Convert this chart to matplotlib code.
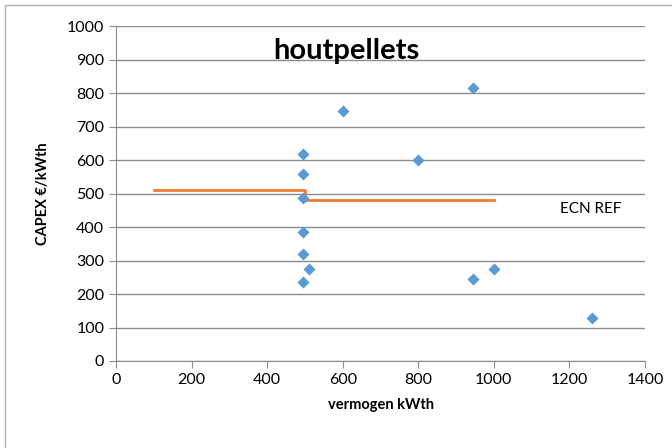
import matplotlib
matplotlib.use("Agg")
import matplotlib.pyplot as plt
from matplotlib.patches import Rectangle

plt.rcParams['font.family'] = ['Lato', 'DejaVu Sans']

# scatter data
x_vals = [600, 495, 495, 495, 495, 495, 510, 495, 945, 800, 945, 1000, 1260]
y_vals = [745, 617, 558, 486, 386, 318, 274, 236, 814, 600, 244, 274, 129]

# ECN reference step line
ref_x = [100, 500, 500, 1000]
ref_y = [510, 510, 480, 480]

title = "houtpellets"
xlabel = "vermogen kWth"
ylabel = "CAPEX €/kWth"
ref_label = "ECN REF"
xticks = [0, 200, 400, 600, 800, 1000, 1200, 1400]
yticks = [0, 100, 200, 300, 400, 500, 600, 700, 800, 900, 1000]

fig = plt.figure(figsize=(6.72, 4.48), dpi=100)
ax = fig.add_axes([116/672, 1-361/448, (645-116)/672, (361-26)/448])

fig.patches.append(Rectangle((5/672, -0.1), 1.2, 1 - 5/448 + 0.1, transform=fig.transFigure,
                             fill=False, edgecolor='#b0b0b0', linewidth=1.0))

ax.plot(ref_x, ref_y, color='#ED7D31', linewidth=2, zorder=3)
ax.scatter(x_vals, y_vals, marker='D', s=38, color='#5B9BD5', zorder=4, linewidths=0)

ax.set_xlim(0, 1400)
ax.set_ylim(0, 1000)
ax.set_xticks(xticks)
ax.set_yticks(yticks)
ax.grid(axis='y', color='#8c8c8c', linewidth=1)
ax.set_axisbelow(True)
for s in ['top', 'right']:
    ax.spines[s].set_visible(False)
for s in ['left', 'bottom']:
    ax.spines[s].set_color('#8c8c8c')
ax.tick_params(axis='both', colors='#8c8c8c', labelcolor='black', labelsize=11.5, length=5, direction='out')

ax.set_xlabel(xlabel, fontsize=10.5, fontweight='bold', labelpad=8)
ax.set_ylabel(ylabel, fontsize=10.5, fontweight='bold', labelpad=12)
ax.text(0.435, 0.965, title, transform=ax.transAxes, ha='center', va='top', fontsize=21, fontweight='bold')
ax.text(1175, 454, ref_label, ha='left', va='center', fontsize=11)

fig.savefig("out.png", dpi=100)
